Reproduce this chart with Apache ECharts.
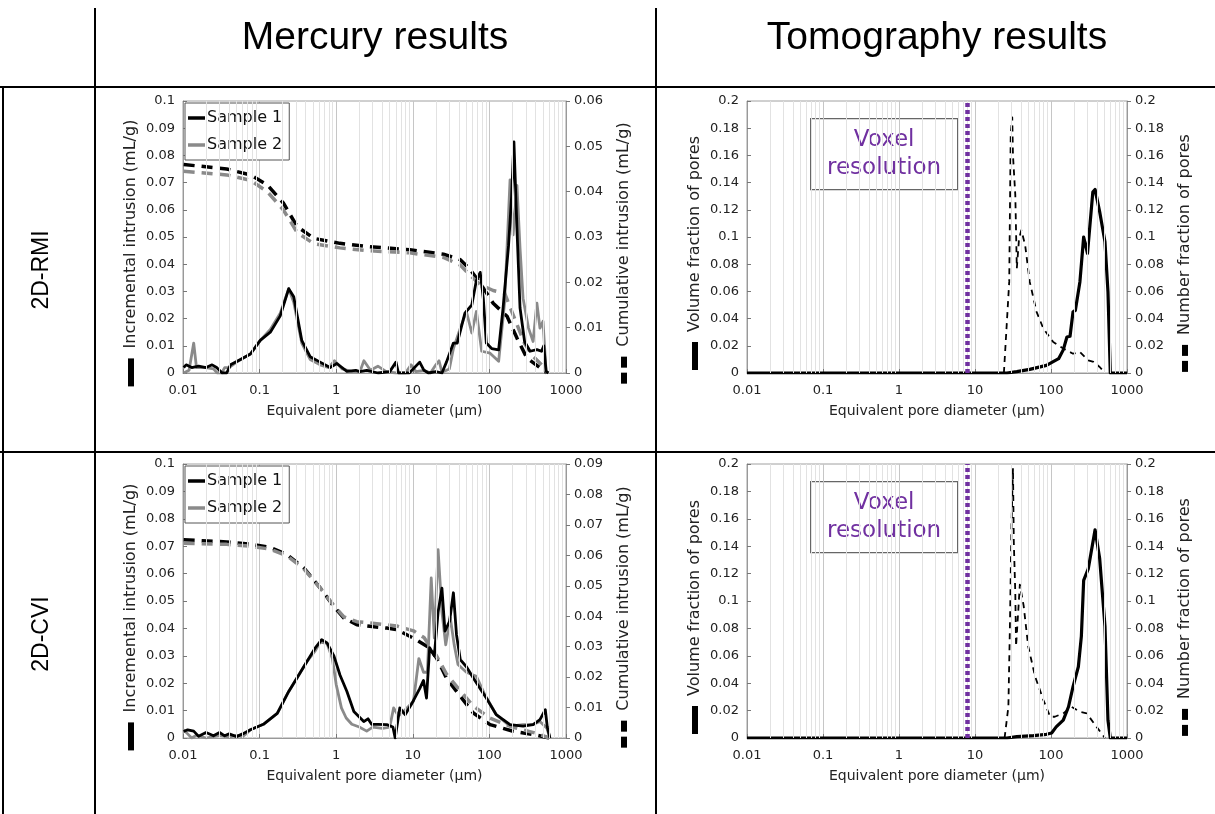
<!DOCTYPE html>
<html>
<head>
<meta charset="utf-8">
<script src="https://cdn.jsdelivr.net/npm/echarts@6/dist/echarts.min.js"></script>
<style>
html,body{margin:0;padding:0;background:#fff;}
#c{width:1215px;height:814px;}
</style>
</head>
<body>
<div id="c"></div>
<script>
// ---------- DATA ----------
const xTickLabels = ['0.01', '0.1', '1', '10', '100', '1000'];
const minorGridValues = [0.02,0.03,0.04,0.05,0.06,0.07,0.08,0.09,
  0.2,0.3,0.4,0.5,0.6,0.7,0.8,0.9, 2,3,4,5,6,7,8,9,
  20,30,40,50,60,70,80,90, 200,300,400,500,600,700,800,900];
const voxelResolution = 8; // µm

// 2D-RMI mercury, incremental (mL/g) [diameter µm, value]
const rmiHgIncS1 = [[0.0102,0.002],[0.011,0.003],[0.013,0.002],[0.016,0.0025],[0.02,0.002],[0.024,0.003],[0.0275,0.002],[0.0324,0],[0.0372,0],[0.0417,0.003],[0.0562,0.005],[0.0759,0.007],[0.102,0.012],[0.138,0.015],[0.186,0.021],[0.24,0.031],[0.279,0.028],[0.355,0.012],[0.457,0.006],[0.617,0.004],[0.832,0.002],[1.02,0.0035],[1.38,0.0006],[1.8,0.001],[2.04,0.0005],[2.5,0.001],[3.5,0],[5.0,0.0005],[6.03,0.004],[6.5,0],[9,0],[12.3,0.004],[14,0.001],[16,0],[20,0.0005],[24,0],[27.5,0.004],[33.9,0.011],[38,0.011],[47.9,0.022],[58.9,0.025],[67.6,0.034],[75.9,0.037],[83.2,0.0275],[91.2,0.011],[107,0.009],[132,0.0085],[151,0.024],[178,0.047],[195,0.065],[209,0.085],[229,0.053],[251,0.024],[288,0.0116],[339,0.008],[417,0.0086],[479,0.008],[513,0.01],[550,0.0006],[589,0]];
const rmiHgIncS2 = [[0.0102,0],[0.012,0.001],[0.0138,0.011],[0.015,0.002],[0.02,0.002],[0.025,0.0015],[0.028,0],[0.032,0],[0.035,0.002],[0.04,0.002],[0.05,0.004],[0.0759,0.007],[0.102,0.012],[0.138,0.016],[0.186,0.022],[0.24,0.031],[0.279,0.026],[0.355,0.011],[0.457,0.005],[0.617,0.003],[0.8,0.002],[0.95,0.0045],[1.2,0.0015],[1.6,0.0005],[2.04,0.0005],[2.3,0.0045],[2.8,0.001],[3.5,0.0025],[4.5,0.0005],[6,0],[8,0],[9.5,0.003],[11,0.0005],[14,0.001],[17,0],[20,0.003],[22,0.0045],[24,0.0003],[30,0.0015],[33.9,0.009],[41.7,0.0165],[50.1,0.0226],[58.9,0.0147],[67.6,0.0226],[79.4,0.008],[102,0.0073],[132,0.0043],[158,0.026],[186,0.071],[204,0.0508],[229,0.069],[251,0.046],[275,0.0275],[324,0.0165],[372,0.0116],[417,0.0257],[457,0.0165],[501,0.019],[550,0.0006],[589,0]];
// 2D-RMI mercury, cumulative (mL/g)
const rmiHgCumS1 = [[0.0102,0.046],[0.0372,0.045],[0.0759,0.0437],[0.126,0.0415],[0.204,0.0375],[0.309,0.0323],[0.513,0.0297],[1.12,0.0286],[2.51,0.0279],[9.12,0.0272],[25.1,0.0262],[41.7,0.025],[56.2,0.0228],[75.9,0.0198],[112,0.0154],[170,0.0125],[229,0.0077],[309,0.0033],[501,0.0007],[562,0]];
const rmiHgCumS2 = [[0.0102,0.0445],[0.0372,0.0437],[0.0759,0.0425],[0.126,0.04],[0.204,0.036],[0.309,0.031],[0.513,0.0285],[1.12,0.0276],[2.51,0.027],[9.12,0.0265],[25.1,0.0255],[41.7,0.0238],[56.2,0.0215],[75.9,0.0195],[112,0.0182],[158,0.0176],[204,0.0128],[288,0.0065],[372,0.0037],[501,0.0015],[562,0]];

// 2D-CVI mercury, incremental (mL/g)
const cviHgIncS1 = [[0.0102,0.0024],[0.0115,0.003],[0.0138,0.0025],[0.016,0.0006],[0.02,0.002],[0.025,0.0008],[0.03,0.002],[0.035,0.0008],[0.04,0.0015],[0.05,0.0005],[0.06,0.0015],[0.0759,0.003],[0.112,0.005],[0.17,0.009],[0.24,0.017],[0.309,0.022],[0.417,0.028],[0.537,0.033],[0.646,0.0359],[0.759,0.0347],[0.933,0.03],[1.12,0.023],[1.38,0.017],[1.7,0.0097],[2.29,0.006],[2.6,0.007],[2.9,0.005],[3.5,0.005],[4.57,0.0049],[5.5,0.004],[5.89,0],[6.76,0.011],[7.94,0.0085],[9.55,0.0122],[12.3,0.018],[13.8,0.021],[15.1,0.0146],[16.6,0.033],[19.1,0.03],[21.4,0.046],[24,0.0547],[26.3,0.039],[30.2,0.0426],[33.9,0.053],[37.2,0.0377],[41.7,0.0286],[50.1,0.026],[61.7,0.0219],[75.9,0.018],[91.2,0.0146],[123,0.0085],[186,0.0049],[275,0.0043],[372,0.0049],[457,0.0067],[537,0.0103],[570,0.004],[617,0]];
const cviHgIncS2 = [[0.0102,0.003],[0.0115,0.0015],[0.013,0],[0.015,0.001],[0.02,0],[0.03,0.001],[0.04,0.0003],[0.05,0.001],[0.06,0.0005],[0.07,0.002],[0.0759,0.003],[0.112,0.005],[0.17,0.009],[0.24,0.017],[0.309,0.022],[0.417,0.028],[0.537,0.032],[0.617,0.035],[0.759,0.0345],[0.891,0.029],[1.0,0.0195],[1.17,0.011],[1.35,0.0073],[1.6,0.005],[2.0,0.004],[2.5,0.0025],[3.0,0.004],[4.0,0.0035],[5.0,0.004],[5.62,0.011],[6.5,0.008],[7.59,0.0097],[10.2,0.0134],[12,0.029],[13.8,0.024],[15.5,0.024],[17.4,0.0584],[19.1,0.0365],[21.4,0.0687],[24,0.046],[26.9,0.034],[30.9,0.0438],[34.7,0.034],[38.9,0.0268],[50.1,0.024],[67.6,0.0225],[87.1,0.0158],[123,0.0085],[186,0.0043],[275,0.0049],[372,0.0049],[457,0.006],[562,0.0036],[617,0]];
// 2D-CVI mercury, cumulative (mL/g)
const cviHgCumS1 = [[0.0102,0.0651],[0.0372,0.0644],[0.0759,0.0637],[0.138,0.0626],[0.229,0.0602],[0.38,0.0558],[0.617,0.0493],[0.933,0.0432],[1.26,0.0394],[1.86,0.0372],[2.75,0.0367],[4.57,0.0361],[6.17,0.0356],[10.2,0.0328],[16.6,0.0296],[20.4,0.0263],[27.5,0.0197],[41.7,0.0137],[61.7,0.0082],[102,0.0044],[204,0.0022],[417,0.0009],[603,0]];
const cviHgCumS2 = [[0.0102,0.064],[0.0372,0.0636],[0.0759,0.063],[0.138,0.062],[0.229,0.0598],[0.38,0.0555],[0.617,0.0493],[0.933,0.0435],[1.26,0.0398],[1.86,0.0382],[2.75,0.0378],[4.57,0.0372],[6.17,0.0368],[10.2,0.0352],[14,0.033],[20.4,0.027],[27.5,0.021],[41.7,0.0155],[61.7,0.0105],[102,0.0065],[204,0.0035],[417,0.0015],[603,0]];

// 2D-RMI tomography
const rmiTomoVol = [[0.01,0],[26.3,0],[35.5,0.001],[52.5,0.0027],[87.1,0.0056],[126,0.0105],[145,0.017],[162,0.0265],[178,0.027],[195,0.045],[209,0.046],[240,0.067],[269,0.1],[302,0.088],[355,0.133],[380,0.135],[437,0.1185],[513,0.0965],[562,0.0596],[603,0],[1000,0]];
const rmiTomoNum = [[24,0],[28.2,0.067],[29.5,0.175],[30.9,0.188],[31.6,0.16],[33.9,0.131],[35.5,0.077],[38,0.099],[40.7,0.105],[45.7,0.094],[52.5,0.067],[64.6,0.045],[79.4,0.0326],[107,0.0228],[145,0.018],[195,0.0142],[240,0.0155],[309,0.0093],[363,0.0081],[437,0.0044],[513,0]];
// 2D-CVI tomography
const cviTomoVol = [[0.01,0],[26.3,0],[35.5,0.001],[58.9,0.0017],[87.1,0.0027],[102,0.0037],[117,0.0081],[145,0.013],[170,0.0228],[195,0.0375],[229,0.052],[251,0.0744],[269,0.115],[309,0.1234],[380,0.152],[437,0.131],[513,0.0817],[562,0.013],[603,0],[1000,0]];
const cviTomoNum = [[24.5,0],[27.5,0.0228],[28.8,0.0817],[30.2,0.155],[31.6,0.197],[32.4,0.143],[33.9,0.106],[34.7,0.067],[37.2,0.094],[38.9,0.112],[43.7,0.0964],[50.1,0.067],[61.7,0.045],[79.4,0.0277],[97.7,0.0155],[112,0.0155],[145,0.018],[186,0.0228],[240,0.0191],[295,0.018],[398,0.0081],[513,0]];

// ---------- CHART ----------
const FONT = 'DejaVu Sans';
const BLACK = '#000000', GRAY = '#8a8a8a', PURPLE = '#7030A0';
const chart = echarts.init(document.getElementById('c'), null, {renderer: 'canvas'});

const grids = [
  {left: 183, top: 101, width: 383, height: 272},
  {left: 747, top: 101, width: 380, height: 272},
  {left: 183, top: 464, width: 383, height: 274},
  {left: 747, top: 464, width: 380, height: 274}
].map(g => Object.assign({show: true, borderColor: '#a0a0a0', borderWidth: 1, backgroundColor: '#fff', containLabel: false, outerBoundsMode: 'none'}, g));

function xAx(i) {
  return {
    type: 'log', logBase: 10, gridIndex: i, min: 0.01, max: 1000,
    axisLine: {show: true, lineStyle: {color: '#999', width: 1}},
    axisTick: {show: true, inside: true, length: 4, lineStyle: {color: '#777'}},
    splitLine: {show: true, lineStyle: {color: '#c6c6c6', width: 1}},
    axisLabel: {fontFamily: FONT, fontSize: 13, color: '#222', margin: 11,
      formatter: v => { const k = Math.round(Math.log10(v)) + 2; return xTickLabels[k] !== undefined ? xTickLabels[k] : String(v); }},
    name: 'Equivalent pore diameter (µm)', nameLocation: 'middle', nameGap: 31,
    nameTextStyle: {fontFamily: FONT, fontSize: 14, color: '#222'}
  };
}
const rich = {
  bar: {width: 28, height: 6, backgroundColor: '#000', verticalAlign: 'middle'},
  dash: {width: 11, height: 6, backgroundColor: '#000', verticalAlign: 'middle'},
  gap: {width: 5, height: 6, verticalAlign: 'middle'},
  sp: {width: 10, height: 6, verticalAlign: 'middle'},
  tail: {width: 32, height: 6, verticalAlign: 'middle'},
  t: {fontFamily: FONT, fontSize: 16, color: '#222', verticalAlign: 'middle'}
};
function yAx(i, pos, max, interval, name, dashed) {
  const sym = dashed ? '{dash| }{gap| }{dash| }' : '{bar| }';
  return {
    type: 'value', gridIndex: i, position: pos, min: 0, max: max, interval: interval,
    axisLine: {show: true, lineStyle: {color: '#999'}},
    axisTick: {show: true, inside: pos === 'left', length: 4, lineStyle: {color: '#777'}},
    splitLine: {show: false},
    axisLabel: {fontFamily: FONT, fontSize: 13, color: '#222', margin: 8},
    name: sym + '{sp| }{t|' + name + '}{tail| }', nameLocation: 'middle', nameRotate: 90,
    nameGap: pos === 'left' ? 44 : 50,
    nameTextStyle: {rich: rich, fontFamily: FONT, fontSize: 16, color: '#222'}
  };
}

const xAxis = [0, 1, 2, 3].map(xAx);
const yAxis = [
  yAx(0, 'left', 0.1, 0.01, 'Incremental intrusion (mL/g)', false),
  yAx(0, 'right', 0.06, 0.01, 'Cumulative intrusion (mL/g)', true),
  yAx(1, 'left', 0.2, 0.02, 'Volume fraction of pores', false),
  yAx(1, 'right', 0.2, 0.02, 'Number fraction of pores', true),
  yAx(2, 'left', 0.1, 0.01, 'Incremental intrusion (mL/g)', false),
  yAx(2, 'right', 0.09, 0.01, 'Cumulative intrusion (mL/g)', true),
  yAx(3, 'left', 0.2, 0.02, 'Volume fraction of pores', false),
  yAx(3, 'right', 0.2, 0.02, 'Number fraction of pores', true)
];

function ln(name, data, xi, yi, color, width, type, z) {
  return {type: 'line', name: name, data: data, xAxisIndex: xi, yAxisIndex: yi,
    symbol: 'none', showSymbol: false, animation: false, silent: true, z: z || 3,
    lineStyle: {color: color, width: width, type: type || 'solid', cap: 'butt', join: 'round'},
    itemStyle: {color: color}};
}
function minorGrid(i) {
  return {type: 'line', data: [], xAxisIndex: i, yAxisIndex: 2 * i, z: 1, silent: true, animation: false,
    markLine: {silent: true, symbol: ['none', 'none'], label: {show: false}, animation: false,
      lineStyle: {color: '#e2e2e2', width: 1, type: 'solid'},
      data: minorGridValues.map(v => ({xAxis: v}))}};
}
function voxel(i) {
  return {type: 'line', data: [], xAxisIndex: i, yAxisIndex: 2 * i, z: 5, silent: true, animation: false,
    markLine: {silent: true, symbol: ['none', 'none'], label: {show: false}, animation: false,
      lineStyle: {color: PURPLE, width: 4.5, type: [4, 3]},
      data: [{xAxis: voxelResolution}]}};
}
const CUMDASH = [11, 7];
const series = [
  minorGrid(0), minorGrid(1), minorGrid(2), minorGrid(3),
  ln('Cumulative 1 (RMI)', rmiHgCumS1, 0, 1, BLACK, 3.5, CUMDASH, 2),
  ln('Cumulative 2 (RMI)', rmiHgCumS2, 0, 1, GRAY, 3.5, CUMDASH, 2),
  ln('Sample 2', rmiHgIncS2, 0, 0, GRAY, 2.8),
  ln('Sample 1', rmiHgIncS1, 0, 0, BLACK, 2.8),
  ln('Cumulative 1 (CVI)', cviHgCumS1, 2, 5, BLACK, 3.5, CUMDASH, 2),
  ln('Cumulative 2 (CVI)', cviHgCumS2, 2, 5, GRAY, 3.5, CUMDASH, 2),
  ln('Sample 2', cviHgIncS2, 2, 4, GRAY, 2.8),
  ln('Sample 1', cviHgIncS1, 2, 4, BLACK, 2.8),
  ln('Number fraction (RMI)', rmiTomoNum, 1, 3, BLACK, 1.8, [6, 5]),
  ln('Volume fraction (RMI)', rmiTomoVol, 1, 2, BLACK, 3.2),
  ln('Number fraction (CVI)', cviTomoNum, 3, 7, BLACK, 1.8, [6, 5]),
  ln('Volume fraction (CVI)', cviTomoVol, 3, 6, BLACK, 3.2),
  voxel(1), voxel(3)
];

function legendAt(top) {
  return {left: 185, top: top, orient: 'vertical', data: ['Sample 1', 'Sample 2'],
    icon: 'rect', itemWidth: 17, itemHeight: 3.5, itemGap: 11,
    padding: [7, 7, 7, 3], backgroundColor: '#fff', borderColor: '#555', borderWidth: 1, borderRadius: 0,
    selectedMode: false,
    textStyle: {fontFamily: FONT, fontSize: 16, color: '#111', padding: [0, 0, 0, -3]}};
}

function tline(x1, y1, x2, y2) {
  return {type: 'line', silent: true, z: 100, shape: {x1: x1, y1: y1, x2: x2, y2: y2}, style: {stroke: '#000', lineWidth: 2}};
}
function voxelBox(top) {
  return {type: 'group', left: 810, top: top, z: 50, children: [
    {type: 'rect', shape: {x: 0.5, y: 0.5, width: 147, height: 71}, style: {fill: '#fff', stroke: '#666', lineWidth: 1.2}},
    {type: 'text', x: 74, y: 22, style: {text: 'Voxel', fill: PURPLE, font: '23px "DejaVu Sans"', align: 'center', verticalAlign: 'middle'}},
    {type: 'text', x: 74, y: 50, style: {text: 'resolution', fill: PURPLE, font: '23px "DejaVu Sans"', align: 'center', verticalAlign: 'middle'}}
  ]};
}
const graphic = [
  tline(0, 87, 1215, 87), tline(0, 452, 1215, 452),
  tline(95, 8, 95, 814), tline(656, 8, 656, 814), tline(3, 87, 3, 814),
  {type: 'text', x: 375, y: 38, z: 100, style: {text: 'Mercury results', fill: '#000', font: '39px "Liberation Sans"', align: 'center', verticalAlign: 'middle'}},
  {type: 'text', x: 937, y: 38, z: 100, style: {text: 'Tomography results', fill: '#000', font: '39px "Liberation Sans"', align: 'center', verticalAlign: 'middle'}},
  {type: 'text', x: 42, y: 270, rotation: Math.PI / 2, z: 100, style: {text: '2D-RMI', fill: '#000', font: '23px "Liberation Sans"', align: 'center', verticalAlign: 'middle'}},
  {type: 'text', x: 42, y: 634, rotation: Math.PI / 2, z: 100, style: {text: '2D-CVI', fill: '#000', font: '23px "Liberation Sans"', align: 'center', verticalAlign: 'middle'}},
  voxelBox(118), voxelBox(481)
];

chart.setOption({
  backgroundColor: '#ffffff',
  animation: false,
  textStyle: {fontFamily: FONT},
  grid: grids,
  xAxis: xAxis,
  yAxis: yAxis,
  legend: [legendAt(103), legendAt(466)],
  series: series,
  graphic: graphic
});
</script>
</body>
</html>
